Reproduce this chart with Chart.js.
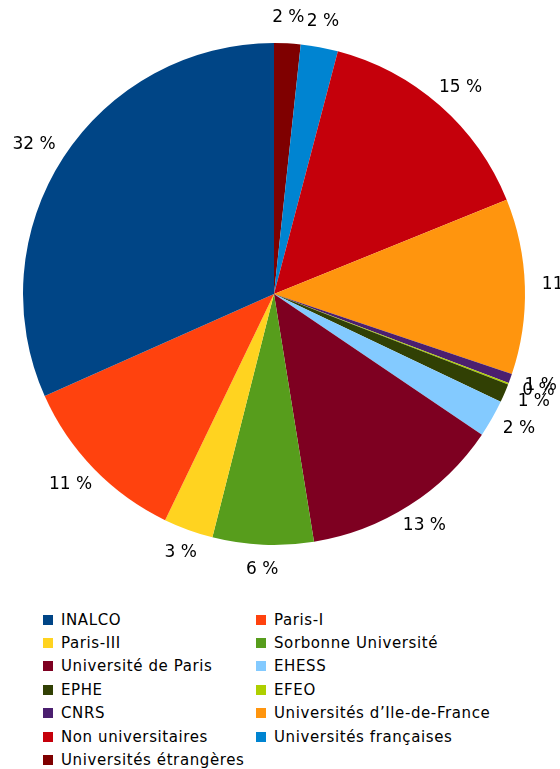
<!DOCTYPE html>
<html>
<head>
<meta charset="utf-8">
<script src="https://cdn.jsdelivr.net/npm/chart.js@4.4.1/dist/chart.umd.min.js"></script>
<style>
  body { margin: 0; background: #fff; font-family: 'DejaVu Sans', sans-serif; }
  #wrap { position: relative; width: 560px; height: 769px; overflow: hidden; }
  #chart { position: absolute; left: 0; top: 0; }
  #legend {
    position: absolute; left: 43px; top: 608px;
    display: grid; grid-template-columns: 213px 260px; grid-auto-rows: 23.4px;
    font-size: 15px; letter-spacing: 0.6px; color: #000;
  }
  #legend div { display: flex; align-items: center; white-space: nowrap; }
  #legend span.box { width: 10px; height: 10px; margin-right: 8px; flex: none; }
</style>
</head>
<body>
<div id="wrap">
  <canvas id="chart" width="560" height="590"></canvas>
  <div id="legend"></div>
</div>
<script>
const labels = ['INALCO', 'Paris-I', 'Paris-III', 'Sorbonne Université', 'Université de Paris', 'EHESS',
  'EPHE', 'EFEO', 'CNRS', "Universités d’Ile-de-France", 'Non universitaires', 'Universités françaises',
  'Universités étrangères'];
const values = [31.7, 11.2, 3.2, 6.5, 13.0, 2.4, 1.2, 0.1, 0.6, 11.3, 14.8, 2.4, 1.7];
const colors = ['#004586', '#ff420e', '#ffd320', '#579d1c', '#7e0021', '#83caff', '#314004', '#aecf00',
  '#4b1f6f', '#ff950e', '#c5000b', '#0084d1', '#7f0000'];

// slices run counter-clockwise from the top in the original, so feed them reversed
const order = labels.map((_, i) => labels.length - 1 - i);
const total = values.reduce((a, b) => a + b, 0);

const outsideLabels = {
  id: 'outsideLabels',
  afterDatasetsDraw(chart) {
    const ctx = chart.ctx;
    const meta = chart.getDatasetMeta(0);
    const data = chart.data.datasets[0].data;
    ctx.save();
    ctx.font = '17px "DejaVu Sans"';
    ctx.fillStyle = '#000';
    ctx.textAlign = 'center';
    ctx.textBaseline = 'middle';
    meta.data.forEach((arc, i) => {
      const a = (arc.startAngle + arc.endAngle) / 2;
      const dx = Math.cos(a), dy = Math.sin(a);
      const text = Math.round(data[i] / total * 100) + ' %';
      const w = ctx.measureText(text).width, h = 16;
      const r = arc.outerRadius + 17;
      ctx.fillText(text, arc.x + dx * (r + w / 2 * Math.abs(dx)), arc.y + dy * r + dy * h / 2 * Math.abs(dy) + (dy < 0 ? -1 : 0));
    });
    ctx.restore();
  }
};

const chart = new Chart(document.getElementById('chart'), {
  type: 'pie',
  data: {
    labels: order.map(i => labels[i]),
    datasets: [{
      data: order.map(i => values[i]),
      backgroundColor: order.map(i => colors[i]),
      borderWidth: 0
    }]
  },
  options: {
    responsive: false,
    animation: false,
    layout: { padding: { left: 23, right: 35, top: 43, bottom: 45 } },
    plugins: {
      legend: { display: false },
      tooltip: { enabled: false }
    }
  },
  plugins: [outsideLabels]
});

const legend = document.getElementById('legend');
labels.forEach((name, i) => {
  const item = document.createElement('div');
  item.innerHTML = '<span class="box" style="background:' + colors[i] + '"></span>' + name;
  legend.appendChild(item);
});
</script>
</body>
</html>
